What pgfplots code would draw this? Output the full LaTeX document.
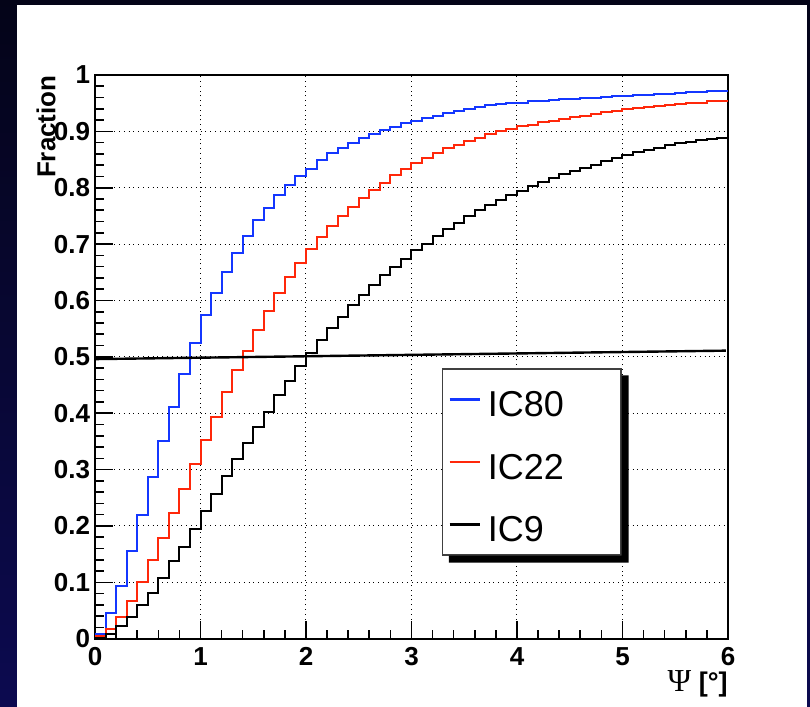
\documentclass[border=0pt]{standalone}
\usepackage{fontspec}
\setmainfont{Liberation Sans}
\newfontfamily\psifont{Liberation Serif}
\usepackage{pgfplots}
\usepackage{pgfplotstable}
\pgfplotsset{compat=1.18}
\definecolor{navytop}{RGB}{4,4,24}
\definecolor{navybot}{RGB}{12,10,80}
\definecolor{icblue}{RGB}{20,55,255}
\definecolor{icred}{RGB}{255,40,10}
\pgfplotstableread{
x ic80 ic22 ic9
0.0 0.008 0.005 0.002
0.1 0.045 0.018 0.008
0.2 0.094 0.039 0.022
0.3 0.155 0.066 0.039
0.4 0.219 0.101 0.059
0.5 0.286 0.139 0.081
0.6 0.351 0.178 0.108
0.7 0.411 0.223 0.137
0.8 0.470 0.266 0.163
0.9 0.525 0.310 0.194
1.0 0.574 0.353 0.226
1.1 0.614 0.393 0.257
1.2 0.651 0.438 0.289
1.3 0.684 0.476 0.319
1.4 0.715 0.510 0.347
1.5 0.742 0.547 0.375
1.6 0.764 0.581 0.403
1.7 0.787 0.614 0.432
1.8 0.805 0.641 0.458
1.9 0.821 0.667 0.483
2.0 0.834 0.692 0.507
2.1 0.849 0.712 0.529
2.2 0.861 0.732 0.551
2.3 0.871 0.750 0.571
2.4 0.880 0.766 0.592
2.5 0.889 0.781 0.609
2.6 0.896 0.796 0.628
2.7 0.902 0.809 0.645
2.8 0.908 0.822 0.660
2.9 0.914 0.833 0.674
3.0 0.919 0.844 0.689
3.1 0.924 0.853 0.701
3.2 0.928 0.862 0.715
3.3 0.933 0.870 0.727
3.4 0.937 0.876 0.738
3.5 0.940 0.883 0.749
3.6 0.943 0.889 0.760
3.7 0.946 0.895 0.769
3.8 0.948 0.901 0.778
3.9 0.950 0.905 0.787
4.0 0.951 0.909 0.794
4.1 0.953 0.912 0.803
4.2 0.954 0.916 0.811
4.3 0.955 0.919 0.817
4.4 0.957 0.922 0.824
4.5 0.958 0.925 0.830
4.6 0.959 0.928 0.835
4.7 0.960 0.931 0.841
4.8 0.961 0.934 0.847
4.9 0.962 0.937 0.852
5.0 0.963 0.939 0.858
5.1 0.964 0.941 0.863
5.2 0.965 0.943 0.867
5.3 0.966 0.945 0.871
5.4 0.967 0.947 0.875
5.5 0.968 0.948 0.879
5.6 0.969 0.950 0.882
5.7 0.970 0.951 0.884
5.8 0.971 0.953 0.886
5.9 0.972 0.954 0.889
6.0 0.972 0.954 0.889
}\cumdata
\begin{document}
\begin{tikzpicture}[x=1pt,y=1pt]
\useasboundingbox (0,0) rectangle (405,353.5);
\shade[top color=navytop, bottom color=navybot] (0,0) rectangle (405,353.5);
\fill[white] (8.5,0) rectangle (403.3,351);
\begin{axis}[
  at={(47.5pt,34.15pt)}, anchor=south west,
  scale only axis, width=316.5pt, height=281.85pt,
  xmin=0, xmax=6, ymin=0, ymax=1,
  xtick={0,1,2,3,4,5,6},
  ytick={0,0.1,0.2,0.3,0.4,0.5,0.6,0.7,0.8,0.9,1},
  yticklabels={0,0.1,0.2,0.3,0.4,0.5,0.6,0.7,0.8,0.9,1},
  xticklabels={0,1,2,3,4,5,6},
  minor x tick num=4, minor y tick num=4,
  tick pos=left, tick align=inside,
  major tick length=9pt, minor tick length=4.5pt,
  every tick/.style={black, line width=0.8pt},
  axis line style={black, line width=1pt},
  grid=major, grid style={black, dotted, line width=0.5pt},
  /pgf/number format/assume math mode=true,
  tick label style={font=\bfseries\fontsize{13}{13}\selectfont},
  yticklabel style={inner sep=0pt, xshift=-2.3pt},
  xticklabel style={inner sep=0pt, yshift=-4.2pt},
  ylabel={\bfseries Fraction},
  ylabel style={at={(axis description cs:-0.0774,1)}, anchor=east, inner sep=0pt, font=\fontsize{13}{13}\selectfont},
  xlabel={{\psifont\fontsize{16}{16}\selectfont Ψ} \textbf{[°]}},
  xlabel style={at={(axis description cs:1,-0.055)}, anchor=north east, inner sep=0pt, font=\fontsize{13.5}{14}\selectfont},
  legend cell align=left,
  legend image code/.code={\draw[#1, sharp plot, line width=1.2pt] (0pt,0pt) -- (15pt,0pt);},
  legend style={name=icleg, at={(axis description cs:0.548,0.4796)}, anchor=north west,
    draw=black!75, line width=0.6pt, fill=white,
    font=\fontsize{18}{18}\selectfont,
    inner xsep=3pt, inner ysep=6.5pt, row sep=13.75pt,
    nodes={inner xsep=3.5pt, inner ysep=0pt, text height=17.5pt, text depth=0pt}},
]
\addplot[const plot mark left, icblue, line width=1pt] table[x=x, y=ic80] {\cumdata};
\addlegendentry{IC80\hspace*{22pt}}
\addplot[const plot mark left, icred, line width=1pt] table[x=x, y=ic22] {\cumdata};
\addlegendentry{IC22\hspace*{22pt}}
\addplot[const plot mark left, black, line width=1pt] table[x=x, y=ic9] {\cumdata};
\addlegendentry{IC9\hspace*{22pt}}
\addplot[black, line width=1.2pt, forget plot] coordinates {(0,0.496) (5.98,0.511)};
\end{axis}
\fill[black] ([xshift=3.5pt]icleg.south west) -- ([xshift=3.5pt,yshift=-3.5pt]icleg.south west)
  -- ([xshift=3.5pt,yshift=-3.5pt]icleg.south east) -- ([xshift=3.5pt,yshift=-3.5pt]icleg.north east)
  -- ([yshift=-3.5pt]icleg.north east) -- (icleg.south east) -- cycle;
\end{tikzpicture}
\end{document}
